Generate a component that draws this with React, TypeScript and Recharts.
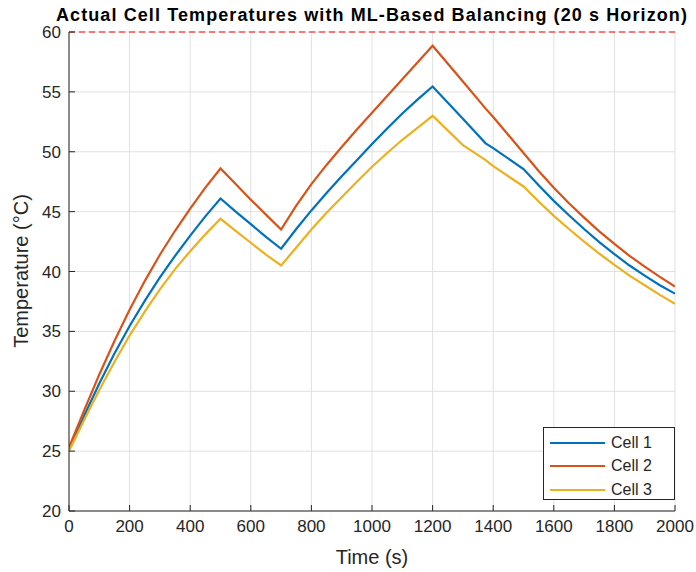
import React from 'react';
import {
  LineChart,
  Line,
  XAxis,
  YAxis,
  CartesianGrid,
  ReferenceLine,
  Legend,
  Label,
} from 'recharts';

const times = [
  0, 50, 100, 150, 200, 250, 300, 350, 400, 450, 500, 550, 600, 650, 700, 750, 800, 850, 900, 950, 1000,
  1050, 1100, 1150, 1200, 1300, 1375, 1400, 1500, 1550, 1600, 1650, 1700, 1750, 1800, 1850, 1900, 1950, 2000,
];
const cell1 = [
  25.1, 27.95, 30.65, 33.15, 35.45, 37.55, 39.5, 41.3, 43.0, 44.6, 46.1, 45.0, 43.95, 42.9, 41.9, 43.55, 45.1,
  46.55, 47.95, 49.3, 50.65, 51.95, 53.2, 54.35, 55.45, 52.75, 50.7, 50.3, 48.55, 47.2, 45.9, 44.7, 43.55, 42.45,
  41.45, 40.5, 39.65, 38.85, 38.15,
];
const cell2 = [
  25.3, 28.4, 31.4, 34.2, 36.8, 39.2, 41.4, 43.4, 45.25, 47.0, 48.6, 47.3, 46.0, 44.75, 43.5, 45.5, 47.3, 48.9,
  50.4, 51.85, 53.25, 54.65, 56.05, 57.45, 58.85, 55.87, 53.6, 52.9, 49.9, 48.4, 47.0, 45.7, 44.5, 43.35, 42.3,
  41.3, 40.4, 39.55, 38.75,
];
const cell3 = [
  25.0, 27.6, 30.1, 32.45, 34.65, 36.65, 38.5, 40.2, 41.7, 43.1, 44.4, 43.4, 42.4, 41.4, 40.5, 42.0, 43.5, 44.9,
  46.2, 47.5, 48.75, 49.9, 51.0, 52.0, 53.0, 50.55, 49.3, 48.8, 47.1, 45.85, 44.65, 43.55, 42.5, 41.5, 40.55,
  39.65, 38.85, 38.05, 37.3,
];

const xTicks = [0, 200, 400, 600, 800, 1000, 1200, 1400, 1600, 1800, 2000];
const yTicks = [20, 25, 30, 35, 40, 45, 50, 55, 60];
const maxTemp = 60;

const series = [
  { key: 'cell1', name: 'Cell 1', color: '#0072BD' },
  { key: 'cell2', name: 'Cell 2', color: '#D95319' },
  { key: 'cell3', name: 'Cell 3', color: '#EDB120' },
];

const data = times.map((t, i) => ({ t, cell1: cell1[i], cell2: cell2[i], cell3: cell3[i] }));

const AXIS = '#262626';
const FONT = '"Liberation Sans", Arial, Helvetica, sans-serif';

const BottomTick = ({ x, y, payload }: any) => (
  <g>
    <line x1={x} x2={x} y1={y} y2={y - 6} stroke={AXIS} />
    <text x={x} y={y + 21} textAnchor="middle" fontSize={17} fill={AXIS} fontFamily={FONT}>
      {payload.value}
    </text>
  </g>
);

const LeftTick = ({ x, y, payload }: any) => (
  <g>
    <line x1={x} x2={x + 6} y1={y} y2={y} stroke={AXIS} />
    <text x={x - 8} y={y + 6} textAnchor="end" fontSize={17} fill={AXIS} fontFamily={FONT}>
      {payload.value}
    </text>
  </g>
);

const TopTick = ({ x, y }: any) => <line x1={x} x2={x} y1={y} y2={y + 6} stroke={AXIS} />;
const RightTick = ({ x, y }: any) => <line x1={x} x2={x - 6} y1={y} y2={y} stroke={AXIS} />;

const renderLegend = () => (
  <div
    style={{
      border: `1px solid ${AXIS}`,
      background: '#fff',
      width: 132,
      height: 73,
      boxSizing: 'border-box',
      paddingTop: 3,
    }}
  >
    {series.map((s) => (
      <div key={s.key} style={{ display: 'flex', alignItems: 'center', height: 23.5 }}>
        <svg width={62} height={10} style={{ marginLeft: 5 }}>
          <line x1={1} x2={56} y1={5} y2={5} stroke={s.color} strokeWidth={2.2} />
        </svg>
        <span style={{ fontSize: 16, color: AXIS, fontFamily: FONT }}>{s.name}</span>
      </div>
    ))}
  </div>
);

export default function App() {
  return (
    <div style={{ position: 'absolute', left: 0, top: 0, width: 696, height: 572, background: '#fff', fontFamily: FONT }}>
      <div
        style={{
          position: 'absolute',
          top: 5,
          left: 0,
          width: 744,
          textAlign: 'center',
          fontWeight: 'bold',
          fontSize: 18,
          letterSpacing: 1.1,
          color: '#000',
          whiteSpace: 'nowrap',
        }}
      >
        Actual Cell Temperatures with ML-Based Balancing (20 s Horizon)
      </div>
      <LineChart width={696} height={572} data={data} margin={{ top: 32, right: 21, left: 0, bottom: 31 }}>
        <CartesianGrid stroke="#e0e0e0" vertical horizontal />
        <XAxis
          dataKey="t"
          type="number"
          domain={[0, 2000]}
          ticks={xTicks}
          allowDataOverflow
          height={30}
          tickSize={0}
          tickMargin={0}
          stroke={AXIS}
          tick={<BottomTick />}
        >
          <Label
            content={() => (
              <text x={372} y={564} textAnchor="middle" fontSize={20} fill={AXIS} fontFamily={FONT}>
                Time (s)
              </text>
            )}
          />
        </XAxis>
        <XAxis
          xAxisId="top"
          orientation="top"
          type="number"
          domain={[0, 2000]}
          ticks={xTicks}
          allowDataOverflow
          height={0}
          tickSize={0}
          tickMargin={0}
          stroke={AXIS}
          tick={<TopTick />}
        />
        <YAxis
          type="number"
          domain={[20, 60]}
          ticks={yTicks}
          allowDataOverflow
          width={69}
          tickSize={0}
          tickMargin={0}
          stroke={AXIS}
          tick={<LeftTick />}
        >
          <Label
            content={() => (
              <text
                x={28}
                y={271}
                transform="rotate(-90 28 271)"
                textAnchor="middle"
                fontSize={20}
                fill={AXIS}
                fontFamily={FONT}
              >
                Temperature (°C)
              </text>
            )}
          />
        </YAxis>
        <YAxis
          yAxisId="right"
          orientation="right"
          type="number"
          domain={[20, 60]}
          ticks={yTicks}
          allowDataOverflow
          width={0}
          tickSize={0}
          tickMargin={0}
          stroke={AXIS}
          tick={<RightTick />}
        />
        <ReferenceLine y={maxTemp} stroke="#ff0000" strokeDasharray="6 4" strokeWidth={1.2} />
        {series.map((s) => (
          <Line
            key={s.key}
            dataKey={s.key}
            name={s.name}
            type="linear"
            stroke={s.color}
            strokeWidth={2.2}
            dot={false}
            isAnimationActive={false}
          />
        ))}
        <Legend
          layout="vertical"
          align="center"
          verticalAlign="middle"
          content={renderLegend}
          wrapperStyle={{ left: 543, top: 427, width: 132, height: 73 }}
        />
      </LineChart>
    </div>
  );
}
